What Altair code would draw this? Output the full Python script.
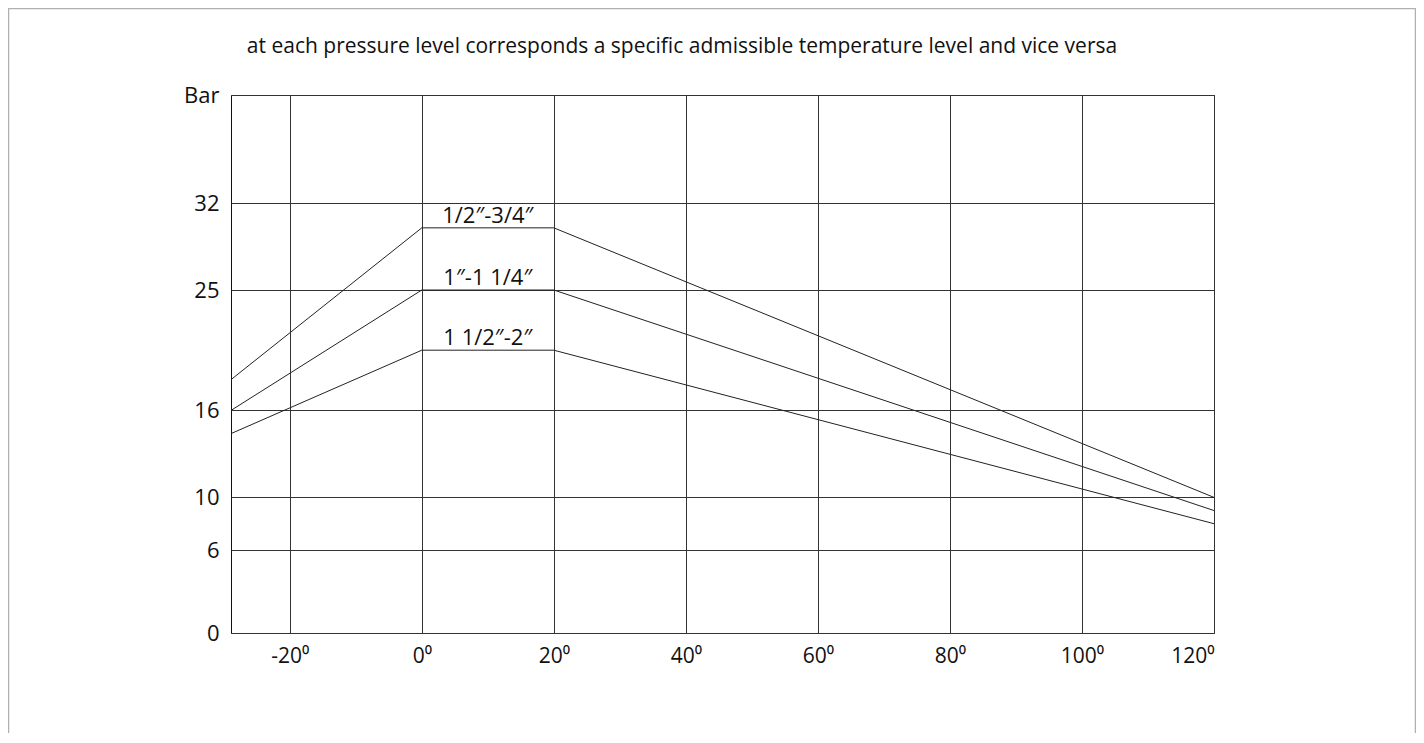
import altair as alt
import pandas as pd

# --- data ---
temps = [-28.9, 0, 20, 120]              # °C, left edge, plateau start/end, right edge
series_names = ["1/2″-3/4″", "1″-1 1/4″", "1 1/2″-2″"]
pressure_a = [18.3, 30, 30, 10]
pressure_b = [16, 25, 25, 9]
pressure_c = [14.4, 20.5, 20.5, 8]

x_ticks = [-20, 0, 20, 40, 60, 80, 100, 120]
y_ticks = [0, 6, 10, 16, 25, 32, 40]      # 40 -> "Bar"
y_range_px = [538, 455, 402.4, 315.4, 195, 108, 0]

title_text = "at each pressure level corresponds a specific admissible temperature level and vice versa"

rows = []
for name, vals in zip(series_names, [pressure_a, pressure_b, pressure_c]):
    for t, p in zip(temps, vals):
        rows.append({"series": name, "temp": t, "bar": p})
df = pd.DataFrame(rows)

lab = pd.DataFrame({"series": series_names, "temp": [10, 10, 10],
                    "bar": [pressure_a[1], pressure_b[1], pressure_c[1]]})

W, H = 983, 538
FONT = "Open Sans"

xscale = alt.Scale(domain=[temps[0], temps[-1]], nice=False, zero=False)
yscale = alt.Scale(domain=y_ticks, range=y_range_px, nice=False, zero=False)

xaxis = alt.Axis(values=x_ticks, labelExpr="datum.value + '⁰'", title=None,
                 grid=True, gridColor="#333", gridWidth=1, gridOpacity=1,
                 domain=False, ticks=False, labelFontSize=21, labelFont=FONT,
                 labelColor="#111", labelPadding=12)
yaxis = alt.Axis(values=y_ticks, labelExpr="datum.value == 40 ? 'Bar' : datum.label",
                 title=None, grid=True, gridColor="#333", gridWidth=1, gridOpacity=1,
                 domain=False, ticks=False, labelFontSize=22, labelFont=FONT,
                 labelColor="#111", labelPadding=12)

lines = alt.Chart(df).mark_line(color="#222", strokeWidth=1).encode(
    x=alt.X("temp:Q", scale=xscale, axis=xaxis),
    y=alt.Y("bar:Q", scale=yscale, axis=yaxis),
    detail="series:N",
)

labels = alt.Chart(lab).mark_text(font=FONT, fontSize=22, color="#111",
                                  baseline="alphabetic", align="center", dy=-5).encode(
    x=alt.X("temp:Q", scale=xscale),
    y=alt.Y("bar:Q", scale=yscale),
    text="series:N",
)

one = pd.DataFrame({"k": [0]})

frame = alt.Chart(one).mark_rect(
    filled=False, stroke="#b0b0b0", strokeWidth=1.5).encode(
    x=alt.value(-222.5), x2=alt.value(1184.5),
    y=alt.value(-86.5), y2=alt.value(H + 120),
)

title = alt.Chart(one).mark_text(font=FONT, fontSize=21, color="#111",
                                 baseline="alphabetic", align="center").encode(
    x=alt.value(451), y=alt.value(-42), text=alt.value(title_text),
)

chart = alt.layer(frame, lines, labels, title).properties(
    width=W, height=H,
    autosize=alt.AutoSizeParams(type="none"),
    padding={"left": 223, "top": 87, "right": 202, "bottom": 100},
).configure_view(stroke="#111", strokeWidth=1)

chart.save("out.html", embed_options={"renderer": "svg", "actions": False})
